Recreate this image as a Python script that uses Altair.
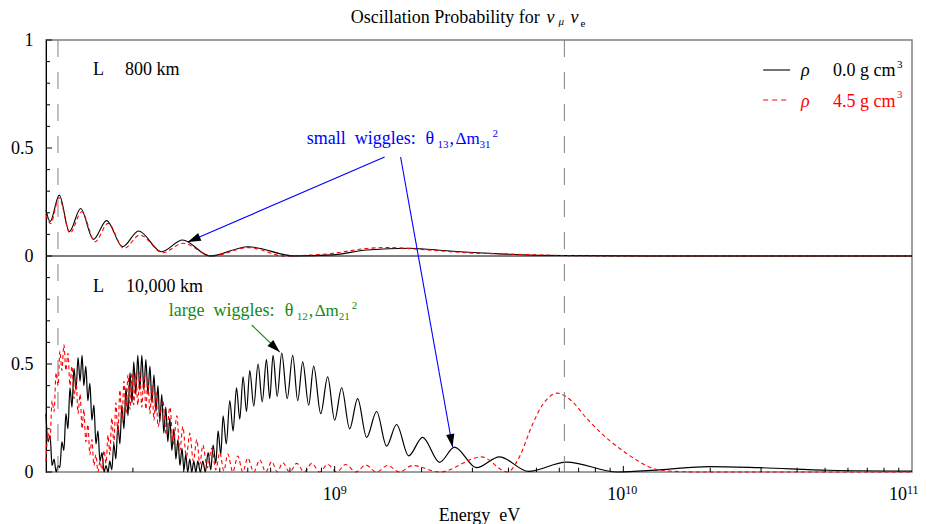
import altair as alt
import numpy as np
import pandas as pd

FONT = "Liberation Serif"
BLUE = "#0000ff"
GREEN = "#138a13"
RED = "#ff0000"
GREY = "#808080"

# ---------------- data: log10(E / eV) and probability ----------------
# L = 800 km, rho = 0.0 (black)
near_vac_logE = [8.000, 8.014, 8.046, 8.081, 8.120, 8.164, 8.210, 8.265, 8.321, 8.400,
                 8.473, 8.568, 8.700, 8.862, 8.993, 9.111, 9.260, 9.398, 9.571, 9.803,
                 10.090, 11.000]
near_vac_P = [0.213, 0.159, 0.282, 0.113, 0.220, 0.077, 0.164, 0.043, 0.116, 0.020,
              0.074, 0.000, 0.043, 0.000, 0.005, 0.028, 0.036, 0.023, 0.010, 0.002,
              0.000, 0.000]
# L = 800 km, rho = 4.5 (red)
near_mat_logE = [8.000, 8.016, 8.045, 8.083, 8.124, 8.170, 8.215, 8.270, 8.325, 8.405,
                 8.474, 8.574, 8.702, 8.827, 8.879, 8.993, 9.111, 9.190, 9.294, 9.457,
                 9.630, 9.803, 10.090, 11.000]
near_mat_P = [0.190, 0.150, 0.270, 0.106, 0.205, 0.066, 0.151, 0.035, 0.097, 0.015,
              0.059, 0.000, 0.039, 0.000, 0.002, 0.012, 0.035, 0.039, 0.031, 0.015,
              0.008, 0.002, 0.000, 0.000]

# L = 10,000 km, rho = 0.0 (black): dense band then resolved wiggles
far_vac_logE = [8.000, 8.007, 8.014, 8.021, 8.028, 8.035, 8.042, 8.048, 8.055, 8.062,
                8.069, 8.076, 8.083, 8.090, 8.097, 8.104, 8.111, 8.118, 8.125, 8.131,
                8.138, 8.145, 8.152, 8.159, 8.166, 8.173, 8.180, 8.187, 8.194, 8.201,
                8.208, 8.215, 8.221, 8.228, 8.235, 8.242, 8.249, 8.256, 8.263, 8.270,
                8.277, 8.284, 8.291, 8.298, 8.304, 8.311, 8.318, 8.325, 8.332, 8.339,
                8.346, 8.353, 8.360, 8.367, 8.374, 8.381, 8.388, 8.394, 8.401, 8.408,
                8.415, 8.422, 8.429, 8.436, 8.443, 8.450, 8.457, 8.464, 8.471, 8.478,
                8.484, 8.491, 8.498, 8.505, 8.512, 8.519, 8.526,
                8.5346, 8.5433, 8.5519, 8.5616, 8.5709, 8.5789, 8.5882, 8.5962, 8.6055, 8.6135,
                8.6246, 8.6367, 8.6481, 8.6599, 8.6713, 8.6827, 8.6945, 8.7059, 8.7197, 8.7346,
                8.7491, 8.7637, 8.7751, 8.7865, 8.8010, 8.8166, 8.8356, 8.8547, 8.8720, 8.8893,
                8.9100, 8.9273, 8.9516, 8.9758, 9.0000, 9.0242, 9.0519, 9.0796, 9.1107, 9.1453,
                9.1799, 9.2145, 9.2561, 9.3045, 9.3633, 9.4152, 9.4913, 9.5709, 9.6713, 9.8028,
                9.9792, 10.1246, 10.2976, 10.4706, 10.7128, 11.000]
far_vac_P = [0.27, 0.14, 0.17, 0.03, 0.06, 0.00, 0.03, 0.02, 0.14, 0.10,
             0.27, 0.20, 0.39, 0.30, 0.48, 0.38, 0.53, 0.42, 0.54, 0.40,
             0.49, 0.33, 0.41, 0.24, 0.31, 0.13, 0.19, 0.05, 0.09, 0.00,
             0.03, 0.00, 0.05, 0.01, 0.13, 0.06, 0.22, 0.13, 0.31, 0.20,
             0.39, 0.26, 0.46, 0.32, 0.51, 0.36, 0.54, 0.38, 0.54, 0.38,
             0.52, 0.36, 0.49, 0.32, 0.45, 0.28, 0.40, 0.23, 0.36, 0.18,
             0.30, 0.14, 0.25, 0.10, 0.20, 0.06, 0.15, 0.03, 0.11, 0.01,
             0.08, 0.00, 0.06, 0.00, 0.05, 0.00, 0.05,
             0.000, 0.050, 0.000, 0.090, 0.010, 0.125, 0.040, 0.190, 0.080, 0.260,
             0.130, 0.330, 0.190, 0.390, 0.245, 0.440, 0.280, 0.470, 0.305, 0.500,
             0.325, 0.520, 0.340, 0.540, 0.350, 0.550, 0.340, 0.540, 0.330, 0.510,
             0.310, 0.490, 0.270, 0.440, 0.240, 0.390, 0.200, 0.340, 0.160, 0.280,
             0.120, 0.220, 0.075, 0.160, 0.045, 0.115, 0.020, 0.070, 0.003, 0.046,
             0.000, 0.010, 0.025, 0.020, 0.008, 0.004]

# L = 10,000 km, rho = 4.5 (red)
far_mat_logE = [8.000, 8.007, 8.014, 8.021, 8.028, 8.035, 8.042, 8.048, 8.055, 8.062,
                8.069, 8.076, 8.083, 8.090, 8.097, 8.104, 8.111, 8.118, 8.125, 8.131,
                8.138, 8.145, 8.152, 8.159, 8.166, 8.173, 8.180, 8.187, 8.194, 8.201,
                8.208, 8.215, 8.221, 8.228, 8.235, 8.242, 8.249, 8.256, 8.263, 8.270,
                8.277, 8.284, 8.291, 8.298, 8.304, 8.311, 8.318, 8.325, 8.332, 8.339,
                8.346, 8.353, 8.360, 8.367, 8.374, 8.381, 8.388,
                8.4048, 8.4170, 8.4291, 8.4412, 8.4533, 8.4637, 8.4740, 8.4862, 8.4983, 8.5104,
                8.5225, 8.5329, 8.5433, 8.5588, 8.5744, 8.5882, 8.6021, 8.6159, 8.6298, 8.6471,
                8.6644, 8.6817, 8.6990, 8.7197, 8.7405, 8.7612, 8.7820, 8.8010, 8.8201, 8.8443,
                8.8685, 8.8945, 8.9204, 8.9481, 8.9758, 9.0069, 9.0381, 9.0727, 9.1073, 9.1453,
                9.1834, 9.2249, 9.2699, 9.3633, 9.5087, 9.5986, 9.6401, 9.6851, 9.7197, 9.7716,
                9.8201, 9.8720, 9.9273, 9.9862, 10.0450, 10.0900, 10.1488, 10.2630, 11.000]
far_mat_P = [0.05, 0.18, 0.15, 0.33, 0.28, 0.46, 0.40, 0.56, 0.47, 0.59,
             0.47, 0.55, 0.40, 0.49, 0.34, 0.43, 0.27, 0.36, 0.20, 0.29,
             0.14, 0.22, 0.08, 0.15, 0.03, 0.08, 0.00, 0.05, 0.01, 0.10,
             0.04, 0.17, 0.08, 0.25, 0.13, 0.32, 0.18, 0.38, 0.23, 0.42,
             0.27, 0.45, 0.29, 0.46, 0.31, 0.46, 0.31, 0.46, 0.30, 0.45,
             0.29, 0.43, 0.27, 0.40, 0.24, 0.37, 0.21,
             0.330, 0.170, 0.300, 0.130, 0.260, 0.100, 0.210, 0.070, 0.180, 0.050,
             0.150, 0.035, 0.125, 0.020, 0.110, 0.010, 0.090, 0.005, 0.083, 0.000,
             0.074, 0.000, 0.065, 0.000, 0.056, 0.000, 0.048, 0.000, 0.043, 0.000,
             0.040, 0.000, 0.040, 0.000, 0.035, 0.000, 0.035, 0.000, 0.032, 0.000,
             0.030, 0.000, 0.030, 0.000, 0.070, 0.000, 0.070, 0.220, 0.310, 0.365,
             0.330, 0.250, 0.175, 0.110, 0.056, 0.023, 0.005, 0.000, 0.000]

# axis tick energies and probability ticks
x_tick_E = [2e8, 3e8, 4e8, 5e8, 6e8, 7e8, 8e8, 9e8, 1e9,
            2e9, 3e9, 4e9, 5e9, 6e9, 7e9, 8e9, 9e9, 1e10,
            2e10, 3e10, 4e10, 5e10, 6e10, 7e10, 8e10, 9e10]
y_tick_v = [0.0, 0.1, 0.2, 0.3, 0.4, 0.5, 0.6, 0.7, 0.8, 0.9, 1.0,
            1.1, 1.2, 1.3, 1.4, 1.5, 1.6, 1.7, 1.8, 1.9, 2.0]
marker_logE = [8.0415, 9.7958]
# decade labels on the energy axis (base, exponent)
decade_base = ["10", "10", "10"]
decade_exp = ["9", "10", "11"]

X_SCALE = alt.Scale(type="log", domain=[1e8, 1e11])
Y_SCALE = alt.Scale(domain=[0, 2])

x_axis = alt.Axis(values=[1e9, 1e10, 1e11], labels=False,
                  ticks=False, tickSize=0, grid=False, domain=False,
                  title="Energy\u00a0 eV", titleFont=FONT, titleFontSize=18, titleFontWeight="normal",
                  titleColor="black", titleY=48, titleBaseline="alphabetic")
y_axis = alt.Axis(values=[0, 0.5, 1, 1.5, 2],
                  labelExpr="datum.value == 2 ? '1' : ((datum.value == 0.5 || datum.value == 1.5) ? '0.5' : '0')",
                  ticks=False, tickSize=0, grid=False, domain=True, domainColor="black", domainWidth=1,
                  labelFont=FONT, labelFontSize=18, labelColor="black", labelPadding=13, title=None)


def X(field):
    return alt.X(field, type="quantitative", scale=X_SCALE, axis=x_axis)


def Y(field):
    return alt.Y(field, type="quantitative", scale=Y_SCALE, axis=y_axis)


def curve(logE, P, offset):
    n = min(len(logE), len(P))
    return pd.DataFrame({"E": np.power(10.0, np.array(logE[:n])),
                         "v": np.array(P[:n]) + offset,
                         "i": np.arange(n)})


def line_layer(df, color, dash=None, width=1.1):
    kw = dict(color=color, strokeWidth=width, interpolate="monotone")
    if dash:
        kw["strokeDash"] = dash
    return alt.Chart(df).mark_line(**kw).encode(x=X("E"), y=Y("v"), order="i:Q")


layers = []
layers.append(line_layer(curve(near_vac_logE, near_vac_P, 1.0), "black"))
layers.append(line_layer(curve(far_vac_logE, far_vac_P, 0.0), "black", width=1.2))
layers.append(line_layer(curve(near_mat_logE, near_mat_P, 1.0), RED, dash=[4, 3]))
layers.append(line_layer(curve(far_mat_logE, far_mat_P, 0.0), RED, dash=[4, 3]))

# zero line of the upper panel
zero_df = pd.DataFrame({"E1": [1e8], "E2": [1e11], "v": [1.0]})
layers.append(alt.Chart(zero_df).mark_rule(color="black", strokeWidth=1).encode(
    x=X("E1"), x2="E2:Q", y=Y("v")))

# dashed vertical markers
mark_df = pd.DataFrame({"E": np.power(10.0, marker_logE), "top": [2.0, 2.0], "bot": [0.0, 0.0]})
layers.append(alt.Chart(mark_df).mark_rule(color=GREY, strokeWidth=1, strokeDash=[17, 15]).encode(
    x=X("E"), y=Y("top"), y2="bot:Q"))

# inward ticks
xt = pd.DataFrame({"E": x_tick_E})
xt["v0"] = 0.0
xt["v1"] = [0.028 if e in (1e9, 1e10) else 0.02 for e in x_tick_E]
layers.append(alt.Chart(xt).mark_rule(color="black", strokeWidth=1).encode(
    x=X("E"), y=Y("v0"), y2="v1:Q"))
yt = pd.DataFrame({"v": y_tick_v})
yt["E1"] = 1e8
yt["E2"] = [10 ** 8.021 if abs(v * 2 - round(v * 2)) < 1e-6 else 10 ** 8.014 for v in y_tick_v]
layers.append(alt.Chart(yt).mark_rule(color="black", strokeWidth=1).encode(
    x=X("E1"), x2="E2:Q", y=Y("v")))

# legend lines
leg_df = pd.DataFrame({"E1": [10 ** 10.4844], "E2": [10 ** 10.5779], "v": [1.8611]})
layers.append(alt.Chart(leg_df).mark_rule(color="black", strokeWidth=1.1).encode(
    x=X("E1"), x2="E2:Q", y=Y("v")))
leg_df2 = pd.DataFrame({"E1": [10 ** 10.4844], "E2": [10 ** 10.5779], "v": [1.7222]})
layers.append(alt.Chart(leg_df2).mark_rule(color=RED, stroke=RED, strokeWidth=1.2, strokeDash=[5, 4]).encode(
    x=X("E1"), x2="E2:Q", y=Y("v")))

# arrows
arrows = pd.DataFrame({
    "E1": np.power(10.0, [9.1730, 9.2284, 8.7128]),
    "v1": [1.4583, 1.4583, 0.6806],
    "E2": np.power(10.0, [8.4913, 9.4083, 8.8097]),
    "v2": [1.0648, 0.1157, 0.5556],
    "color": [BLUE, BLUE, GREEN],
    "angle": [246.7, 169.8, 134.0]})
layers.append(alt.Chart(arrows).mark_rule(strokeWidth=1.1).encode(
    x=X("E1"), x2="E2:Q", y=Y("v1"), y2="v2:Q",
    color=alt.Color("color:N", scale=None)))
layers.append(alt.Chart(arrows).mark_point(shape="M0,0L0.32,1L-0.32,1Z", filled=True, size=676,
                                           opacity=1, color="black", strokeWidth=0).encode(
    x=X("E2"), y=Y("v2"), angle=alt.Angle("angle:Q", scale=None)))

# annotation texts (position in log10 energy, panel units)
ann_rows = [
    ("Oscillation Probability for", 9.0554, 2.0787, 18, "black", False),
    ("\u03bd", 9.7336, 2.0787, 18, "black", True),
    ("\u03bc", 9.7751, 2.0694, 11, "black", True),
    ("\u03bd", 9.8166, 2.0787, 18, "black", True),
    ("e", 9.8512, 2.0602, 11, "black", False),
    ("L", 8.1626, 1.8380, 18, "black", False),
    ("800 km", 8.2734, 1.8380, 18, "black", False),
    ("L", 8.1626, 0.8333, 18, "black", False),
    ("10,000 km", 8.2768, 0.8333, 18, "black", False),
    ("\u03c1", 10.6159, 1.8333, 18, "black", True),
    ("0.0 g cm", 10.7266, 1.8333, 18, "black", False),
    ("3", 10.9481, 1.8704, 11, "black", False),
    ("\u03c1", 10.6159, 1.6898, 18, RED, True),
    ("4.5 g cm", 10.7266, 1.6898, 18, RED, False),
    ("3", 10.9481, 1.7315, 11, RED, False),
    ("small\u00a0 wiggles:", 8.9031, 1.5185, 18, BLUE, False),
    ("\u03b8", 9.3149, 1.5185, 18, BLUE, False),
    ("13", 9.3564, 1.5000, 11, BLUE, False),
    (",", 9.3979, 1.5185, 18, BLUE, False),
    ("\u0394m", 9.4187, 1.5185, 17, BLUE, False),
    ("31", 9.5017, 1.5000, 11, BLUE, False),
    ("2", 9.5467, 1.5509, 11, BLUE, False),
    ("large\u00a0 wiggles:", 8.4256, 0.7222, 18, GREEN, False),
    ("\u03b8", 8.8270, 0.7222, 18, GREEN, False),
    ("12", 8.8685, 0.7037, 11, GREEN, False),
    (",", 8.9100, 0.7222, 18, GREEN, False),
    ("\u0394m", 8.9308, 0.7222, 17, GREEN, False),
    ("21", 9.0138, 0.7037, 11, GREEN, False),
    ("2", 9.0588, 0.7546, 11, GREEN, False),
    # decade labels of the energy axis
    (decade_base[0], 8.9585, -0.1296, 18, "black", False),
    (decade_exp[0], 9.0208, -0.1019, 12, "black", False),
    (decade_base[1], 9.9446, -0.1296, 18, "black", False),
    (decade_exp[1], 10.0069, -0.1019, 12, "black", False),
    (decade_base[2], 10.9204, -0.1296, 18, "black", False),
    (decade_exp[2], 10.9827, -0.1019, 12, "black", False),
]
ann = pd.DataFrame(ann_rows, columns=["text", "logE", "v", "size", "color", "italic"])
ann["E"] = np.power(10.0, ann["logE"])
for italic in (False, True):
    sub = ann[ann["italic"] == italic]
    layers.append(alt.Chart(sub).mark_text(align="left", baseline="alphabetic", font=FONT,
                                           fontStyle="italic" if italic else "normal").encode(
        x=X("E"), y=Y("v"),
        text="text:N",
        color=alt.Color("color:N", scale=None),
        size=alt.Size("size:Q", scale=None)))

chart = alt.layer(*layers).properties(
    width=866, height=432,
    autosize=alt.AutoSizeParams(type="none"),
    padding={"left": 38, "top": 32, "right": 7, "bottom": 52},
).configure_view(stroke=GREY, strokeWidth=1.5)

chart.save("out.html", embed_options={"renderer": "svg", "actions": False})
